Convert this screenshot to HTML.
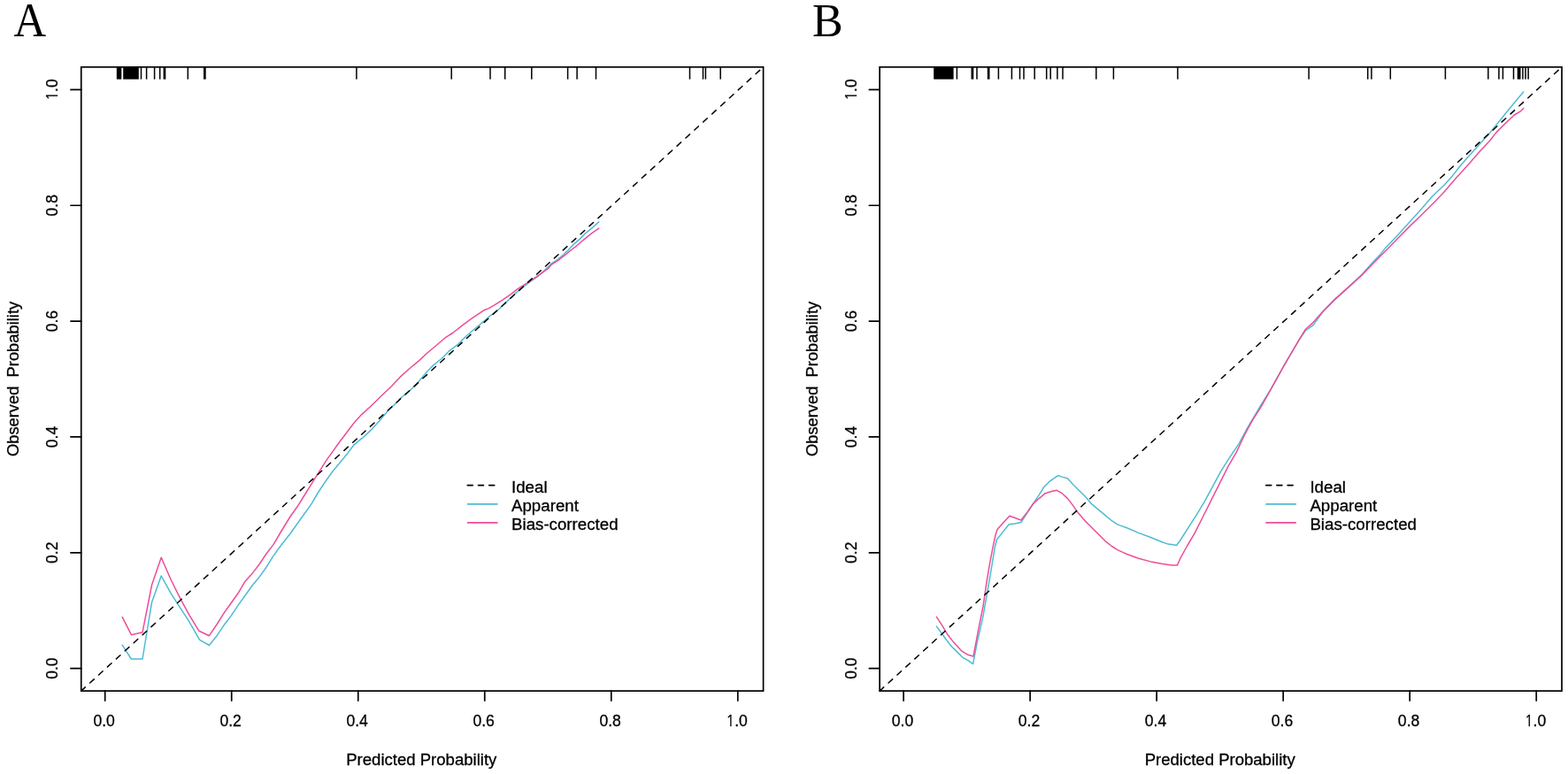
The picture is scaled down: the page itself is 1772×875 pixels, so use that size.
<!DOCTYPE html>
<html><head><meta charset="utf-8"><title>Calibration curves</title>
<style>html,body{margin:0;padding:0;background:#fff;} body{width:1772px;height:875px;overflow:hidden;} svg{display:block;}</style>
</head><body>
<svg width="1772" height="875" viewBox="0 0 1772 875">
<style>.t{font-family:'Liberation Sans', Arial, sans-serif;font-size:19.0px;fill:#000;stroke:#000;stroke-width:0.3px} .one{font-family:'NanumGothic','Liberation Sans',sans-serif;font-size:17.3px} .L{font-family:'Liberation Serif','Times New Roman',serif;fill:#000}</style>
<rect width="1772" height="875" fill="#fff"/>
<polyline points="138.2,729.2 148.3,745.0 161.0,745.0 171.5,681.2 182.2,651.0 193.2,670.9 201.0,683.2 213.3,701.8 225.6,723.3 236.4,729.5 245.0,718.8 253.0,706.8 261.0,696.4 269.0,684.4 277.0,673.2 285.0,662.0 293.0,652.4 301.0,641.2 309.0,628.4 317.0,617.2 328.0,603.2 336.0,592.0 344.0,580.8 352.0,569.6 360.0,556.0 368.0,544.0 376.0,532.8 384.0,523.2 392.0,513.6 400.0,502.8 410.1,494.7 419.0,486.4 428.6,476.1 438.9,463.8 449.9,453.5 452.6,450.0 463.3,441.5 470.9,434.0 480.1,423.1 488.9,413.6 498.9,405.5 507.7,396.7 517.8,389.1 526.6,380.3 536.7,371.5 546.7,363.3 554.1,356.9 563.3,350.0 572.4,341.4 581.6,332.3 590.7,324.9 599.9,318.0 607.9,312.3 615.9,305.4 623.6,297.6 630.4,293.3 637.3,287.3 642.4,282.6 648.4,276.1 655.3,270.1 662.1,263.3 670.7,256.4 676.7,250.9" fill="none" stroke="#4DBBD5" stroke-width="1.5" stroke-linejoin="round" stroke-linecap="round"/>
<polyline points="138.2,697.7 148.6,717.8 161.0,714.8 171.5,661.5 182.2,630.2 193.2,655.5 204.0,677.1 214.1,695.6 224.9,713.3 236.4,718.7 245.0,706.0 253.0,693.2 261.0,682.0 269.0,670.8 277.0,657.2 285.0,648.4 293.0,638.0 301.0,626.0 309.0,615.6 317.0,602.0 328.0,584.0 336.0,572.8 344.0,560.0 352.0,547.2 360.0,534.4 368.0,521.6 376.0,510.4 384.0,499.2 392.0,488.8 400.5,477.5 408.7,468.6 419.0,459.3 430.0,448.5 442.6,436.5 452.0,426.4 462.4,417.0 473.4,407.9 482.6,399.2 493.9,389.7 502.7,382.2 511.5,376.5 522.8,367.7 532.9,360.2 540.4,355.2 546.7,350.8 551.9,348.9 558.7,344.9 567.9,339.1 577.0,332.9 585.0,326.6 594.1,320.9 602.1,315.7 611.3,309.4 619.3,303.7 623.6,298.8 630.4,294.6 638.1,288.6 645.0,283.0 651.8,277.8 658.7,271.8 668.1,264.1 676.7,258.1" fill="none" stroke="#EE4C97" stroke-width="1.5" stroke-linejoin="round" stroke-linecap="round"/>
<line x1="91.75" y1="781.10" x2="862.60" y2="75.80" stroke="#000" stroke-width="1.5" stroke-dasharray="6.2 7.22" stroke-linecap="round"/>
<rect x="131.80" y="75.80" width="5.50" height="13.80" fill="#000"/>
<rect x="139.20" y="75.80" width="17.60" height="13.80" fill="#000"/>
<rect x="158.75" y="75.80" width="1.50" height="13.80" fill="#000"/>
<rect x="164.85" y="75.80" width="1.50" height="13.80" fill="#000"/>
<rect x="173.85" y="75.80" width="1.50" height="13.80" fill="#000"/>
<rect x="179.95" y="75.80" width="1.50" height="13.80" fill="#000"/>
<rect x="184.60" y="75.80" width="2.70" height="13.80" fill="#000"/>
<rect x="211.55" y="75.80" width="1.50" height="13.80" fill="#000"/>
<rect x="230.00" y="75.80" width="2.70" height="13.80" fill="#000"/>
<rect x="402.15" y="75.80" width="1.50" height="13.80" fill="#000"/>
<rect x="509.45" y="75.80" width="1.50" height="13.80" fill="#000"/>
<rect x="553.25" y="75.80" width="1.50" height="13.80" fill="#000"/>
<rect x="569.95" y="75.80" width="1.50" height="13.80" fill="#000"/>
<rect x="600.05" y="75.80" width="1.50" height="13.80" fill="#000"/>
<rect x="640.85" y="75.80" width="1.50" height="13.80" fill="#000"/>
<rect x="651.35" y="75.80" width="1.50" height="13.80" fill="#000"/>
<rect x="672.75" y="75.80" width="1.50" height="13.80" fill="#000"/>
<rect x="778.75" y="75.80" width="1.50" height="13.80" fill="#000"/>
<rect x="793.75" y="75.80" width="1.50" height="13.80" fill="#000"/>
<rect x="796.65" y="75.80" width="1.50" height="13.80" fill="#000"/>
<rect x="813.45" y="75.80" width="1.50" height="13.80" fill="#000"/>
<rect x="91.75" y="75.80" width="770.85" height="705.30" fill="none" stroke="#000" stroke-width="1.7"/>
<line x1="118.70" y1="781.10" x2="118.70" y2="792.10" stroke="#000" stroke-width="1.7" stroke-linecap="round"/>
<text transform="translate(117.60,821.20) scale(0.925,1)" text-anchor="middle" class="t">0.0</text>
<line x1="261.72" y1="781.10" x2="261.72" y2="792.10" stroke="#000" stroke-width="1.7" stroke-linecap="round"/>
<text transform="translate(260.62,821.20) scale(0.925,1)" text-anchor="middle" class="t">0.2</text>
<line x1="404.74" y1="781.10" x2="404.74" y2="792.10" stroke="#000" stroke-width="1.7" stroke-linecap="round"/>
<text transform="translate(403.64,821.20) scale(0.925,1)" text-anchor="middle" class="t">0.4</text>
<line x1="547.76" y1="781.10" x2="547.76" y2="792.10" stroke="#000" stroke-width="1.7" stroke-linecap="round"/>
<text transform="translate(546.66,821.20) scale(0.925,1)" text-anchor="middle" class="t">0.6</text>
<line x1="690.78" y1="781.10" x2="690.78" y2="792.10" stroke="#000" stroke-width="1.7" stroke-linecap="round"/>
<text transform="translate(689.68,821.20) scale(0.925,1)" text-anchor="middle" class="t">0.8</text>
<line x1="833.80" y1="781.10" x2="833.80" y2="792.10" stroke="#000" stroke-width="1.7" stroke-linecap="round"/>
<text transform="translate(832.70,821.20) scale(0.925,1)" text-anchor="middle" class="t"><tspan class="one">1</tspan>.0</text>
<line x1="91.75" y1="755.63" x2="79.95" y2="755.63" stroke="#000" stroke-width="1.7" stroke-linecap="round"/>
<text transform="translate(65.20,755.63) rotate(-90) scale(0.925,1)" text-anchor="middle" class="t">0.0</text>
<line x1="91.75" y1="624.79" x2="79.95" y2="624.79" stroke="#000" stroke-width="1.7" stroke-linecap="round"/>
<text transform="translate(65.20,624.79) rotate(-90) scale(0.925,1)" text-anchor="middle" class="t">0.2</text>
<line x1="91.75" y1="493.95" x2="79.95" y2="493.95" stroke="#000" stroke-width="1.7" stroke-linecap="round"/>
<text transform="translate(65.20,493.95) rotate(-90) scale(0.925,1)" text-anchor="middle" class="t">0.4</text>
<line x1="91.75" y1="363.11" x2="79.95" y2="363.11" stroke="#000" stroke-width="1.7" stroke-linecap="round"/>
<text transform="translate(65.20,363.11) rotate(-90) scale(0.925,1)" text-anchor="middle" class="t">0.6</text>
<line x1="91.75" y1="232.27" x2="79.95" y2="232.27" stroke="#000" stroke-width="1.7" stroke-linecap="round"/>
<text transform="translate(65.20,232.27) rotate(-90) scale(0.925,1)" text-anchor="middle" class="t">0.8</text>
<line x1="91.75" y1="101.43" x2="79.95" y2="101.43" stroke="#000" stroke-width="1.7" stroke-linecap="round"/>
<text transform="translate(65.20,101.43) rotate(-90) scale(0.925,1)" text-anchor="middle" class="t"><tspan class="one">1</tspan>.0</text>
<text transform="translate(476.28,864.90) scale(0.977,1)" text-anchor="middle" class="t">Predicted Probability</text>
<text transform="translate(21.40,428.45) rotate(-90) scale(0.965,1)" text-anchor="middle" class="t">Observed&#160; Probability</text>
<line x1="528.25" y1="548.6" x2="562.50" y2="548.6" stroke="#000" stroke-width="1.6" stroke-dasharray="6.1 6.1" stroke-linecap="round"/>
<line x1="527.90" y1="569.8" x2="562.50" y2="569.8" stroke="#4DBBD5" stroke-width="1.7"/>
<line x1="527.90" y1="590.85" x2="562.50" y2="590.85" stroke="#EE4C97" stroke-width="1.7"/>
<text transform="translate(578.00,557.00) scale(0.985,1)" text-anchor="start" class="t">Ideal</text>
<text transform="translate(578.00,577.80) scale(0.985,1)" text-anchor="start" class="t">Apparent</text>
<text transform="translate(578.00,598.90) scale(0.985,1)" text-anchor="start" class="t">Bias-corrected</text>
<text transform="translate(15.60,41.10) scale(0.93,1)" font-size="54.5" class="L">A</text>
<polyline points="1058.4,708.1 1064.0,715.8 1069.1,722.7 1074.3,729.6 1080.3,735.6 1088.0,743.3 1094.0,746.7 1099.6,750.6 1104.3,726.1 1111.1,696.1 1117.5,659.4 1121.0,638.8 1124.4,618.2 1126.5,610.0 1132.0,603.1 1140.2,592.8 1147.1,591.9 1153.9,590.5 1160.8,579.8 1167.6,569.5 1174.5,559.2 1180.0,550.2 1185.1,545.2 1190.1,541.4 1195.8,537.6 1200.2,539.1 1206.4,540.8 1212.7,547.7 1219.0,554.0 1226.6,561.5 1232.9,569.1 1240.4,575.3 1248.0,581.6 1256.4,588.7 1262.8,592.9 1272.9,596.5 1286.6,602.4 1300.3,607.5 1314.0,613.0 1320.0,615.1 1325.5,615.8 1329.6,616.5 1333.7,611.0 1343.3,595.9 1352.9,580.8 1361.2,567.1 1370.1,550.7 1379.7,532.8 1389.3,517.7 1400.3,501.3 1409.9,483.4 1418.1,469.7 1425.0,458.0 1436.0,440.4 1452.0,411.6 1468.0,384.4 1475.2,374.0 1484.0,367.6 1495.0,352.5 1508.7,338.6 1525.2,323.6 1538.9,310.6 1549.8,298.3 1559.0,288.6 1565.0,281.1 1577.6,268.0 1591.2,252.9 1604.8,237.9 1618.4,222.3 1632.0,209.2 1640.0,200.6 1649.6,188.3 1659.2,177.3 1671.6,163.6 1683.9,149.9 1696.2,134.8 1704.5,124.5 1711.3,116.3 1718.2,108.0 1721.6,103.9" fill="none" stroke="#4DBBD5" stroke-width="1.5" stroke-linejoin="round" stroke-linecap="round"/>
<polyline points="1058.4,697.4 1064.9,707.3 1070.4,716.7 1077.7,726.1 1086.3,735.6 1094.0,740.3 1100.0,742.0 1105.6,712.4 1111.1,685.0 1114.8,659.4 1118.2,638.8 1122.4,616.9 1125.1,604.5 1127.2,598.3 1132.6,592.2 1140.9,583.2 1146.4,585.3 1153.9,588.0 1160.8,579.1 1167.6,569.5 1174.5,563.3 1181.3,557.7 1187.6,555.8 1193.9,554.2 1200.2,557.7 1206.4,563.4 1212.7,571.6 1217.8,579.1 1226.6,589.2 1234.1,596.7 1241.7,604.3 1249.2,611.8 1256.4,617.5 1262.8,621.6 1272.9,626.2 1286.6,631.2 1300.3,634.9 1314.0,637.6 1324.1,639.1 1330.3,639.1 1335.1,628.8 1342.0,616.5 1350.2,602.7 1359.8,583.5 1368.0,567.1 1377.6,547.8 1387.9,527.4 1397.5,510.9 1405.8,493.0 1415.4,475.2 1425.0,460.1 1436.0,440.4 1452.0,411.6 1468.0,384.4 1475.2,372.5 1484.0,364.6 1495.0,352.0 1508.7,338.1 1525.2,323.4 1538.9,311.1 1549.8,300.0 1559.0,290.5 1566.0,283.5 1579.6,269.4 1594.1,254.9 1608.7,240.8 1621.3,228.2 1632.0,217.0 1645.5,201.3 1659.2,186.2 1672.9,170.5 1683.9,158.8 1690.8,149.9 1700.4,140.3 1711.3,130.0 1718.2,125.9 1721.6,122.4" fill="none" stroke="#EE4C97" stroke-width="1.5" stroke-linejoin="round" stroke-linecap="round"/>
<line x1="994.15" y1="781.10" x2="1765.00" y2="75.80" stroke="#000" stroke-width="1.5" stroke-dasharray="6.2 7.22" stroke-linecap="round"/>
<rect x="1055.20" y="75.80" width="22.40" height="13.80" fill="#000"/>
<rect x="1080.65" y="75.80" width="1.50" height="13.80" fill="#000"/>
<rect x="1097.50" y="75.80" width="2.80" height="13.80" fill="#000"/>
<rect x="1103.25" y="75.80" width="1.50" height="13.80" fill="#000"/>
<rect x="1115.80" y="75.80" width="2.70" height="13.80" fill="#000"/>
<rect x="1127.65" y="75.80" width="1.50" height="13.80" fill="#000"/>
<rect x="1142.65" y="75.80" width="1.50" height="13.80" fill="#000"/>
<rect x="1151.75" y="75.80" width="1.50" height="13.80" fill="#000"/>
<rect x="1156.25" y="75.80" width="1.50" height="13.80" fill="#000"/>
<rect x="1168.45" y="75.80" width="1.50" height="13.80" fill="#000"/>
<rect x="1181.95" y="75.80" width="1.50" height="13.80" fill="#000"/>
<rect x="1186.45" y="75.80" width="1.50" height="13.80" fill="#000"/>
<rect x="1194.15" y="75.80" width="1.50" height="13.80" fill="#000"/>
<rect x="1200.25" y="75.80" width="1.50" height="13.80" fill="#000"/>
<rect x="1238.05" y="75.80" width="1.50" height="13.80" fill="#000"/>
<rect x="1257.65" y="75.80" width="1.50" height="13.80" fill="#000"/>
<rect x="1330.15" y="75.80" width="1.50" height="13.80" fill="#000"/>
<rect x="1478.35" y="75.80" width="1.50" height="13.80" fill="#000"/>
<rect x="1544.95" y="75.80" width="1.50" height="13.80" fill="#000"/>
<rect x="1549.15" y="75.80" width="1.50" height="13.80" fill="#000"/>
<rect x="1570.55" y="75.80" width="1.50" height="13.80" fill="#000"/>
<rect x="1632.65" y="75.80" width="1.50" height="13.80" fill="#000"/>
<rect x="1681.05" y="75.80" width="1.50" height="13.80" fill="#000"/>
<rect x="1693.15" y="75.80" width="1.50" height="13.80" fill="#000"/>
<rect x="1697.65" y="75.80" width="1.50" height="13.80" fill="#000"/>
<rect x="1709.75" y="75.80" width="1.50" height="13.80" fill="#000"/>
<rect x="1714.70" y="75.80" width="3.80" height="13.80" fill="#000"/>
<rect x="1720.15" y="75.80" width="1.50" height="13.80" fill="#000"/>
<rect x="1723.25" y="75.80" width="1.50" height="13.80" fill="#000"/>
<rect x="1726.35" y="75.80" width="1.50" height="13.80" fill="#000"/>
<rect x="994.15" y="75.80" width="770.85" height="705.30" fill="none" stroke="#000" stroke-width="1.7"/>
<line x1="1021.10" y1="781.10" x2="1021.10" y2="792.10" stroke="#000" stroke-width="1.7" stroke-linecap="round"/>
<text transform="translate(1020.00,821.20) scale(0.925,1)" text-anchor="middle" class="t">0.0</text>
<line x1="1164.12" y1="781.10" x2="1164.12" y2="792.10" stroke="#000" stroke-width="1.7" stroke-linecap="round"/>
<text transform="translate(1163.02,821.20) scale(0.925,1)" text-anchor="middle" class="t">0.2</text>
<line x1="1307.14" y1="781.10" x2="1307.14" y2="792.10" stroke="#000" stroke-width="1.7" stroke-linecap="round"/>
<text transform="translate(1306.04,821.20) scale(0.925,1)" text-anchor="middle" class="t">0.4</text>
<line x1="1450.16" y1="781.10" x2="1450.16" y2="792.10" stroke="#000" stroke-width="1.7" stroke-linecap="round"/>
<text transform="translate(1449.06,821.20) scale(0.925,1)" text-anchor="middle" class="t">0.6</text>
<line x1="1593.18" y1="781.10" x2="1593.18" y2="792.10" stroke="#000" stroke-width="1.7" stroke-linecap="round"/>
<text transform="translate(1592.08,821.20) scale(0.925,1)" text-anchor="middle" class="t">0.8</text>
<line x1="1736.20" y1="781.10" x2="1736.20" y2="792.10" stroke="#000" stroke-width="1.7" stroke-linecap="round"/>
<text transform="translate(1735.10,821.20) scale(0.925,1)" text-anchor="middle" class="t"><tspan class="one">1</tspan>.0</text>
<line x1="994.15" y1="755.63" x2="982.35" y2="755.63" stroke="#000" stroke-width="1.7" stroke-linecap="round"/>
<text transform="translate(967.60,755.63) rotate(-90) scale(0.925,1)" text-anchor="middle" class="t">0.0</text>
<line x1="994.15" y1="624.79" x2="982.35" y2="624.79" stroke="#000" stroke-width="1.7" stroke-linecap="round"/>
<text transform="translate(967.60,624.79) rotate(-90) scale(0.925,1)" text-anchor="middle" class="t">0.2</text>
<line x1="994.15" y1="493.95" x2="982.35" y2="493.95" stroke="#000" stroke-width="1.7" stroke-linecap="round"/>
<text transform="translate(967.60,493.95) rotate(-90) scale(0.925,1)" text-anchor="middle" class="t">0.4</text>
<line x1="994.15" y1="363.11" x2="982.35" y2="363.11" stroke="#000" stroke-width="1.7" stroke-linecap="round"/>
<text transform="translate(967.60,363.11) rotate(-90) scale(0.925,1)" text-anchor="middle" class="t">0.6</text>
<line x1="994.15" y1="232.27" x2="982.35" y2="232.27" stroke="#000" stroke-width="1.7" stroke-linecap="round"/>
<text transform="translate(967.60,232.27) rotate(-90) scale(0.925,1)" text-anchor="middle" class="t">0.8</text>
<line x1="994.15" y1="101.43" x2="982.35" y2="101.43" stroke="#000" stroke-width="1.7" stroke-linecap="round"/>
<text transform="translate(967.60,101.43) rotate(-90) scale(0.925,1)" text-anchor="middle" class="t"><tspan class="one">1</tspan>.0</text>
<text transform="translate(1378.67,864.90) scale(0.977,1)" text-anchor="middle" class="t">Predicted Probability</text>
<text transform="translate(923.80,428.45) rotate(-90) scale(0.965,1)" text-anchor="middle" class="t">Observed&#160; Probability</text>
<line x1="1430.65" y1="548.6" x2="1464.90" y2="548.6" stroke="#000" stroke-width="1.6" stroke-dasharray="6.1 6.1" stroke-linecap="round"/>
<line x1="1430.30" y1="569.8" x2="1464.90" y2="569.8" stroke="#4DBBD5" stroke-width="1.7"/>
<line x1="1430.30" y1="590.85" x2="1464.90" y2="590.85" stroke="#EE4C97" stroke-width="1.7"/>
<text transform="translate(1480.40,557.00) scale(0.985,1)" text-anchor="start" class="t">Ideal</text>
<text transform="translate(1480.40,577.80) scale(0.985,1)" text-anchor="start" class="t">Apparent</text>
<text transform="translate(1480.40,598.90) scale(0.985,1)" text-anchor="start" class="t">Bias-corrected</text>
<text transform="translate(918.00,41.10) scale(1.0,1)" font-size="52.0" class="L">B</text>
</svg>
</body></html>
